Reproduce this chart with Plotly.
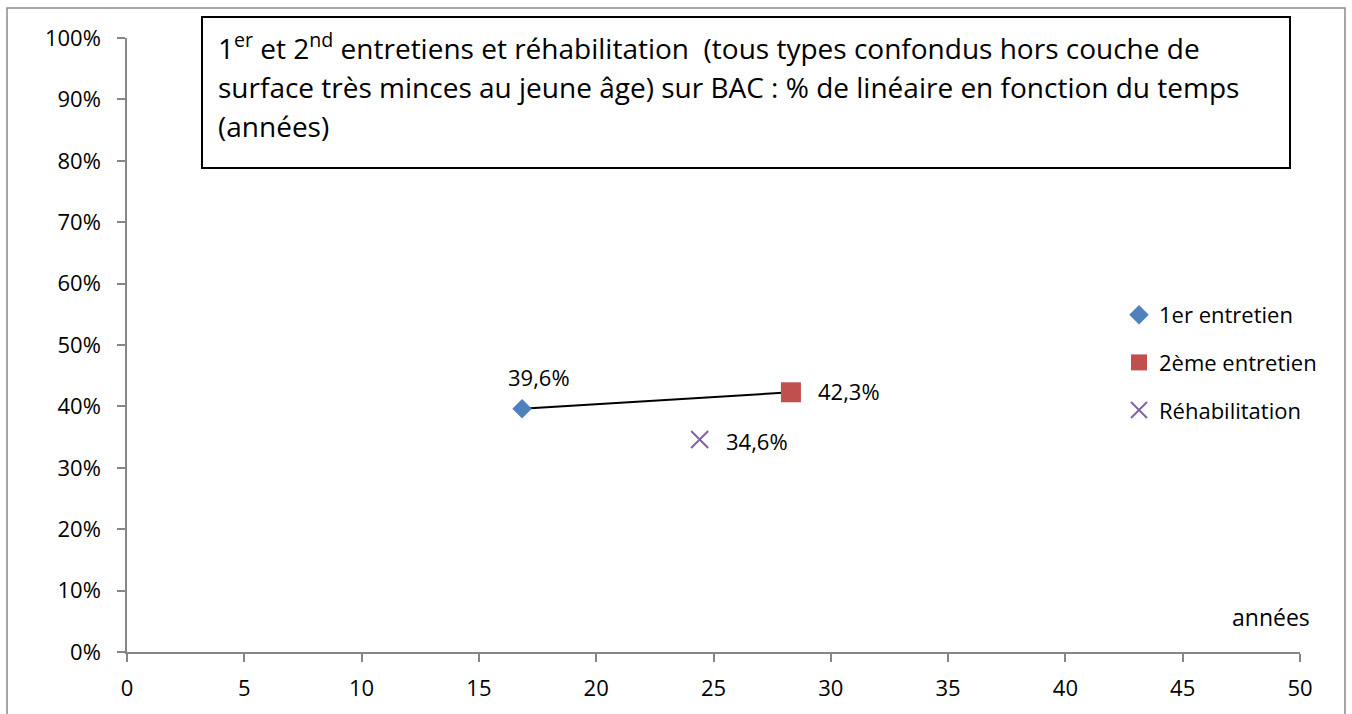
import plotly.graph_objects as go

# Series: years vs share of network length (%)
series_names = ["1er entretien", "2ème entretien", "Réhabilitation"]
series_x = [16.84, 28.30, 24.41]
series_y = [39.6, 42.3, 34.6]

x_ticks = [0, 5, 10, 15, 20, 25, 30, 35, 40, 45, 50]
y_ticks = [0, 10, 20, 30, 40, 50, 60, 70, 80, 90, 100]
y_tick_text = [f"{v}%" for v in y_ticks]

title_lines = [
    "1<sup>er</sup> et 2<sup>nd</sup> entretiens et réhabilitation  (tous types confondus hors couche de",
    "surface très minces au jeune âge) sur BAC : % de linéaire en fonction du temps",
    "(années)",
]
x_label = "années"

colors = ["#4F81BD", "#C0504D", "#8064A2"]
symbols = ["diamond", "square", "x-thin"]
sizes = [15, 20, 17]
FONT = "Open Sans"
AXIS_GRAY = "#868686"

# plot area in pixels: x 127..1300, y 38..652
def px_x(p):
    return (p - 127) / 1173

def px_y(p):
    return (652 - p) / 614

fig = go.Figure()

# Connector between first and second maintenance
fig.add_trace(go.Scatter(
    x=[series_x[0], series_x[1]], y=[series_y[0], series_y[1]],
    mode="lines", line=dict(color="black", width=2),
    showlegend=False, hoverinfo="skip"))

for i, name in enumerate(series_names):
    marker = dict(color=colors[i], size=sizes[i], symbol=symbols[i])
    if symbols[i] == "x-thin":
        marker["line"] = dict(color=colors[i], width=2)
    fig.add_trace(go.Scatter(
        x=[series_x[i]], y=[series_y[i]], mode="markers", name=name,
        marker=marker, legendgroup=name))

# Value labels
label_offsets = [(-16, 32), (25, 1), (24, -1)]
annotations = []
for i in range(len(series_names)):
    dx, dy = label_offsets[i]
    annotations.append(dict(
        x=series_x[i], y=series_y[i], xref="x", yref="y",
        text=f"{series_y[i]:.1f}".replace(".", ",") + "%",
        showarrow=False, xanchor="left", yanchor="middle",
        xshift=dx, yshift=dy, font=dict(family=FONT, size=22, color="black")))

# Title lines inside a framed box
for line, ypx in zip(title_lines, [46, 87, 126]):
    annotations.append(dict(
        x=px_x(216), y=px_y(ypx), xref="paper", yref="paper",
        xanchor="left", yanchor="middle", text=line, showarrow=False,
        align="left", font=dict(family=FONT, size=28, color="black")))

# Axis title
annotations.append(dict(
    x=px_x(1312), y=px_y(617), xref="paper", yref="paper",
    xanchor="right", yanchor="middle", text=x_label, showarrow=False,
    font=dict(family=FONT, size=23, color="black")))

fig.update_layout(
    width=1352, height=714,
    margin=dict(l=127, r=52, t=38, b=62, autoexpand=False),
    paper_bgcolor="white", plot_bgcolor="white",
    separators=", ",
    font=dict(family=FONT, size=22, color="black"),
    annotations=annotations,
    legend=dict(x=px_x(1119), y=px_y(294),
                xanchor="left", yanchor="top", tracegroupgap=16,
                font=dict(family=FONT, size=22, color="black"),
                bgcolor="rgba(0,0,0,0)"),
    shapes=[
        dict(type="rect", xref="paper", yref="paper",
             x0=px_x(7), x1=px_x(1345), y0=-0.3, y1=px_y(8),
             line=dict(color="#8a8a8a", width=1.5), layer="below"),
        dict(type="rect", xref="paper", yref="paper",
             x0=px_x(202), x1=px_x(1290), y0=px_y(168), y1=px_y(17),
             line=dict(color="black", width=2), fillcolor="white", layer="below"),
    ],
)

fig.update_xaxes(range=[0, 50], tickvals=x_ticks, showgrid=False, zeroline=False,
                 showline=True, linecolor=AXIS_GRAY, linewidth=1.5,
                 ticks="outside", ticklen=8, tickcolor=AXIS_GRAY, tickwidth=1.5,
                 ticklabelstandoff=8,
                 tickfont=dict(family=FONT, size=22, color="black"))
fig.update_yaxes(range=[0, 100], tickvals=y_ticks, ticktext=y_tick_text,
                 showgrid=False, zeroline=False, showline=True,
                 linecolor=AXIS_GRAY, linewidth=1.5,
                 ticks="outside", ticklen=8, tickcolor=AXIS_GRAY, tickwidth=1.5,
                 ticklabelstandoff=12,
                 tickfont=dict(family=FONT, size=22, color="black"))

fig.write_html("out.html")
